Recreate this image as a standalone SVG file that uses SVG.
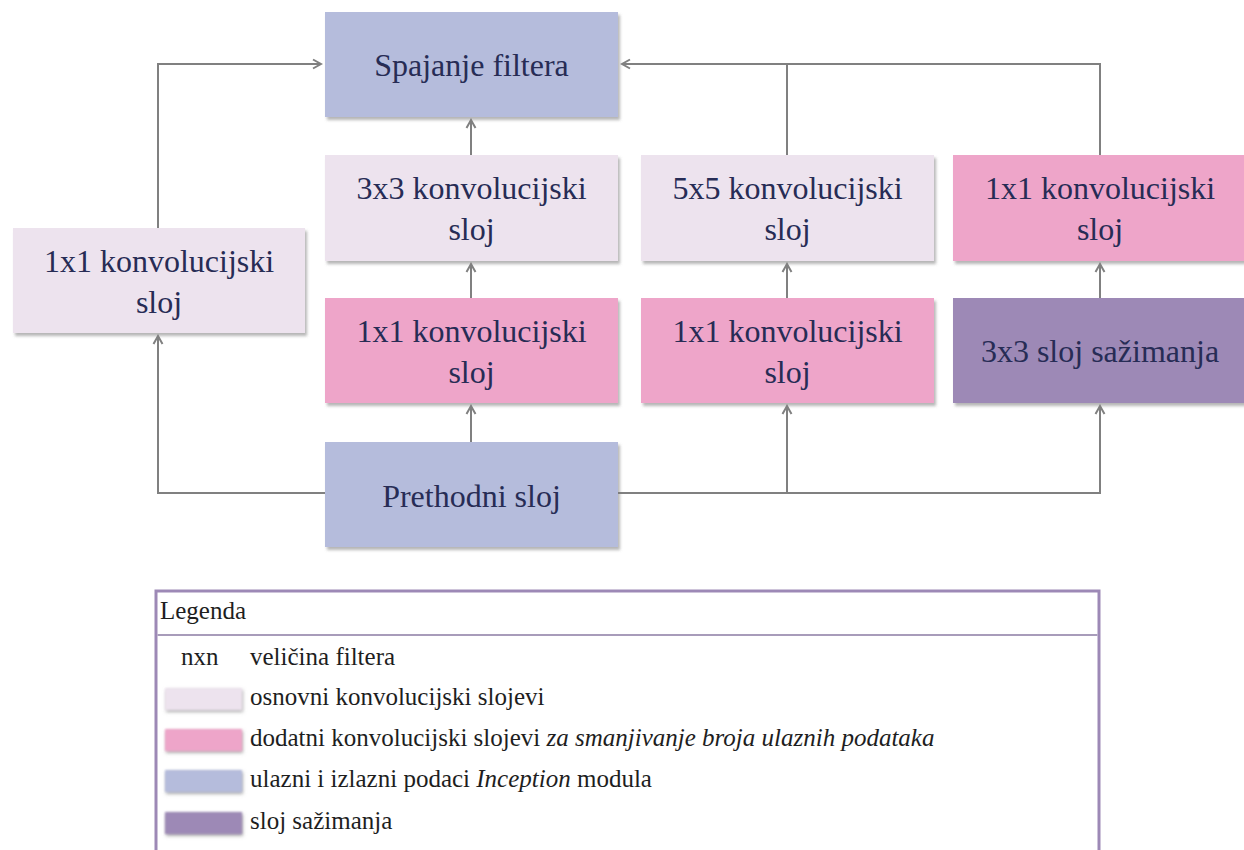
<svg xmlns="http://www.w3.org/2000/svg" width="1244" height="850" viewBox="0 0 1244 850">
<defs>
<style>
.box{stroke:none;filter:url(#sh)}
.io{fill:#b5bcdc}
.base{fill:#ede3ee}
.red{fill:#eea5c9}
.pool{fill:#9d89b6}
.t{font-family:'Liberation Serif',Tinos,'Times New Roman','DejaVu Serif',serif;font-size:32px;fill:#272c55;text-anchor:middle}
.lt{font-family:'Liberation Serif',Tinos,'Times New Roman','DejaVu Serif',serif;font-size:25px;fill:#1e1e1e}
.c{fill:none;stroke:#808080;stroke-width:2}
.sw{filter:url(#sw)}
</style>
<filter id="sh" x="-5%" y="-10%" width="115%" height="130%">
<feDropShadow dx="2" dy="3" stdDeviation="1.5" flood-color="#7a7a7a" flood-opacity="0.55"/>
</filter>
<filter id="sw" x="-20%" y="-40%" width="140%" height="200%">
<feGaussianBlur stdDeviation="0.8"/>
<feDropShadow dx="1" dy="2" stdDeviation="1.5" flood-color="#777" flood-opacity="0.6"/>
</filter>
<marker id="ah" markerWidth="12" markerHeight="12" viewBox="-10 -6 12 12" refX="0" refY="0" orient="auto" markerUnits="userSpaceOnUse">
<path d="M-8,-4.5 L0,0 L-8,4.5" fill="none" stroke="#808080" stroke-width="2"/>
</marker>
</defs>
<rect width="1244" height="850" fill="#ffffff"/>

<g id="connectors">
<path class="c" d="M325,493 H158 V336" marker-end="url(#ah)"/>
<path class="c" d="M158,228 V64 H321" marker-end="url(#ah)"/>
<path class="c" d="M471,442 V406" marker-end="url(#ah)"/>
<path class="c" d="M471,298 V264" marker-end="url(#ah)"/>
<path class="c" d="M471,155 V120" marker-end="url(#ah)"/>
<path class="c" d="M618,493 H1100 V406" marker-end="url(#ah)"/>
<path class="c" d="M787,493 V406" marker-end="url(#ah)"/>
<path class="c" d="M787,298 V264" marker-end="url(#ah)"/>
<path class="c" d="M1100,298 V264" marker-end="url(#ah)"/>
<path class="c" d="M1100,155 V64 H622" marker-end="url(#ah)"/>
<path class="c" d="M787,155 V64"/>
</g>

<g font-family="Liberation Serif, Tinos, Times New Roman, DejaVu Serif, serif">
<g id="spajanje">
<rect class="box io" x="325" y="12" width="293" height="105"/>
<text class="t" x="471.5" y="76">Spajanje filtera</text>
</g>
<g id="conv3x3">
<rect class="box base" x="325" y="155" width="293" height="106"/>
<text class="t" x="471.5" y="199">3x3 konvolucijski</text>
<text class="t" x="471.5" y="240">sloj</text>
</g>
<g id="conv5x5">
<rect class="box base" x="641" y="155" width="293" height="106"/>
<text class="t" x="787.5" y="199">5x5 konvolucijski</text>
<text class="t" x="787.5" y="240">sloj</text>
</g>
<g id="conv1x1_pool">
<rect class="box red" x="953" y="155" width="293" height="106"/>
<text class="t" x="1100" y="199">1x1 konvolucijski</text>
<text class="t" x="1100" y="240">sloj</text>
</g>
<g id="conv1x1_left">
<rect class="box base" x="13" y="228" width="292" height="105"/>
<text class="t" x="159" y="272">1x1 konvolucijski</text>
<text class="t" x="159" y="313">sloj</text>
</g>
<g id="reduce3x3">
<rect class="box red" x="325" y="298" width="293" height="105"/>
<text class="t" x="471.5" y="342">1x1 konvolucijski</text>
<text class="t" x="471.5" y="383">sloj</text>
</g>
<g id="reduce5x5">
<rect class="box red" x="641" y="298" width="293" height="105"/>
<text class="t" x="787.5" y="342">1x1 konvolucijski</text>
<text class="t" x="787.5" y="383">sloj</text>
</g>
<g id="pool">
<rect class="box pool" x="953" y="298" width="293" height="105"/>
<text class="t" x="1100" y="362">3x3 sloj sažimanja</text>
</g>
<g id="prethodni">
<rect class="box io" x="325" y="442" width="293" height="105"/>
<text class="t" x="471.5" y="507">Prethodni sloj</text>
</g>

<g id="legend">
<rect x="156" y="591" width="943" height="280" fill="#ffffff" stroke="#9d89b6" stroke-width="3"/>
<line x1="157.5" y1="635" x2="1097.5" y2="635" stroke="#a89cba" stroke-width="2"/>
<text class="lt" x="160" y="619">Legenda</text>
<text class="lt" x="181" y="665">nxn</text>
<text class="lt" x="250" y="665">veličina filtera</text>
<rect class="sw base" x="165" y="688" width="77" height="22"/>
<text class="lt" x="250" y="705">osnovni konvolucijski slojevi</text>
<rect class="sw red" x="165" y="729" width="77" height="22"/>
<text class="lt" x="250" y="746">dodatni konvolucijski slojevi <tspan font-style="italic">za smanjivanje broja ulaznih podataka</tspan></text>
<rect class="sw io" x="165" y="770" width="77" height="22"/>
<text class="lt" x="250" y="787">ulazni i izlazni podaci <tspan font-style="italic">Inception</tspan> modula</text>
<rect class="sw pool" x="165" y="812" width="77" height="22"/>
<text class="lt" x="250" y="829">sloj sažimanja</text>
</g>
</g>
</svg>
